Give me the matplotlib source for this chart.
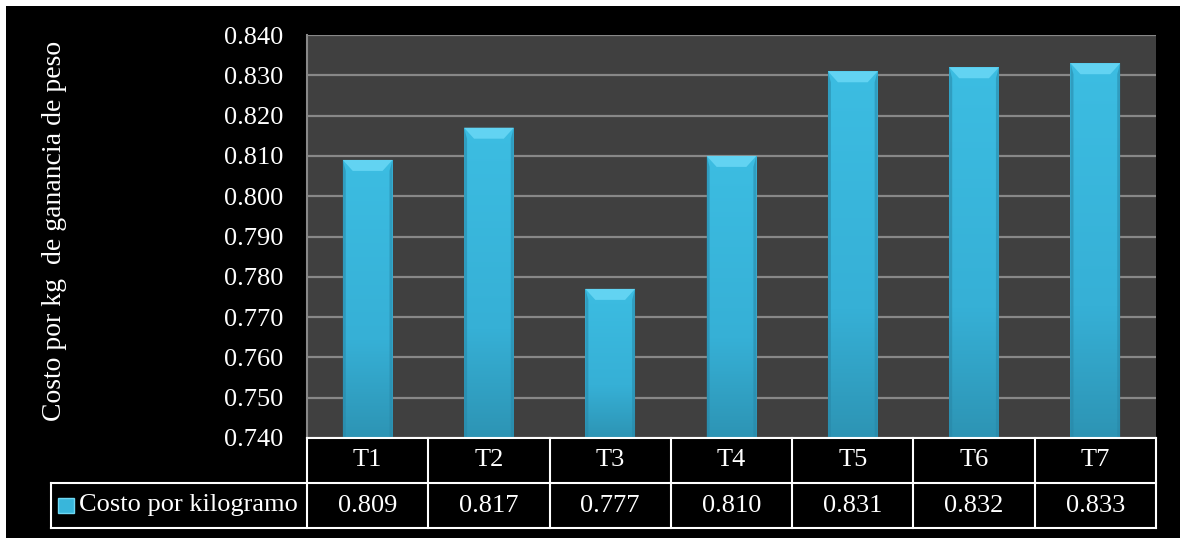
import numpy as np
import matplotlib
matplotlib.use("Agg")
import matplotlib.pyplot as plt
from matplotlib import transforms
from matplotlib.patches import Rectangle, Polygon
from matplotlib.lines import Line2D
from matplotlib.colors import LinearSegmentedColormap

categories = ["T1", "T2", "T3", "T4", "T5", "T6", "T7"]
values = [0.809, 0.817, 0.777, 0.810, 0.831, 0.832, 0.833]
value_labels = ["0.809", "0.817", "0.777", "0.810", "0.831", "0.832", "0.833"]
series_name = "Costo por kilogramo"
y_label = "Costo por kg  de ganancia de peso"
y_ticks = [0.740, 0.750, 0.760, 0.770, 0.780, 0.790, 0.800, 0.810, 0.820, 0.830, 0.840]

SERIF = ["Liberation Serif", "DejaVu Serif"]
FS = 19

W, H = 1180, 538
fig = plt.figure(figsize=(W / 100, H / 100), dpi=100, facecolor="white")
fig.add_artist(Rectangle((6 / W, 0), 1 - 6 / W, (H - 6) / H, transform=fig.transFigure,
                         facecolor="black", edgecolor="none", zorder=0))

ax_l, ax_r, ax_t, ax_b = 307, 1156, 35, 438
ax = fig.add_axes([ax_l / W, (H - ax_b) / H, (ax_r - ax_l) / W, (ax_b - ax_t) / H])
ax.set_facecolor("#404040")

ymin, ymax = y_ticks[0], y_ticks[-1]
x = np.arange(len(categories))
bars = ax.bar(x, np.array(values) - ymin, bottom=ymin, width=0.41, color="#38B6DB",
              zorder=3, edgecolor="none")
ax.set_yticks(y_ticks)
ax.set_yticklabels([f"{t:.3f}" for t in y_ticks], fontfamily=SERIF, fontsize=FS, color="white")
ax.tick_params(axis="y", length=0, pad=17)
ax.set_xticks([])
ax.yaxis.grid(True, color="#888888", linewidth=1.6, zorder=1)
for s in ["top", "right", "bottom"]:
    ax.spines[s].set_visible(False)
ax.spines["left"].set_color("#888888")
ax.spines["left"].set_linewidth(1.5)

grad = np.linspace(0, 1, 256).reshape(-1, 1)
cmap = LinearSegmentedColormap.from_list("b", [(0, "#2D94B4"), (0.35, "#36B0D6"), (1, "#3CBDE2")])
px_to_data_x = len(categories) / (ax_r - ax_l)
px_to_data_y = (ymax - ymin) / (ax_b - ax_t)
for b in bars:
    x0, w, h = b.get_x(), b.get_width(), b.get_height()
    y0 = b.get_y()
    im = ax.imshow(grad, extent=(x0, x0 + w, y0, y0 + h), origin="lower", cmap=cmap,
                   aspect="auto", zorder=3.5)
    im.set_clip_path(b)
    dx = 10 * px_to_data_x
    dy = 11 * px_to_data_y
    top = y0 + h
    ax.add_patch(Polygon([(x0, top), (x0 + w, top), (x0 + w - dx, top - dy), (x0 + dx, top - dy)],
                         closed=True, facecolor="#62D3F2", edgecolor="none", zorder=4))
    sx = 3 * px_to_data_x
    for side in (0, 1):
        xo = x0 if side == 0 else x0 + w
        xi = xo + sx if side == 0 else xo - sx
        ax.add_patch(Polygon([(xo, top), (xi, top - dy), (xi, y0), (xo, y0)],
                             closed=True, facecolor="#2886A6", edgecolor="none", zorder=4,
                             alpha=0.55))
ax.set_xlim(-0.5, len(categories) - 0.5)
ax.set_ylim(ymin, ymax)

fig.text(55 / W, 1 - 231 / H, y_label, rotation=90, ha="center", va="center",
         fontfamily=SERIF, fontsize=20, color="white")

ah = ax_b - ax_t
r1 = -(483 - ax_b) / ah
r2 = -(528 - ax_b) / ah
leg_left = (51 - ax_l) / (ax_r - ax_l)
tr = transforms.blended_transform_factory(ax.transData, ax.transAxes)
lw = 1.5


def line(xs, ys, t):
    ax.add_line(Line2D(xs, ys, transform=t, color="white", linewidth=lw, clip_on=False, zorder=5))


n = len(categories)
line([-0.5, n - 0.5], [0, 0], tr)
line([leg_left, 1], [r1, r1], ax.transAxes)
line([leg_left, 1], [r2, r2], ax.transAxes)
for i in range(n + 1):
    line([i - 0.5, i - 0.5], [0, r2], tr)
line([leg_left, leg_left], [r1, r2], ax.transAxes)

for i, (c, v) in enumerate(zip(categories, value_labels)):
    ax.text(i, r1 / 2, c, transform=tr, ha="center", va="center", fontfamily=SERIF,
            fontsize=FS, color="white", zorder=6)
    ax.text(i, (r1 + r2) / 2, v, transform=tr, ha="center", va="center", fontfamily=SERIF,
            fontsize=FS, color="white", zorder=6)

kx0 = (58 - ax_l) / (ax_r - ax_l)
kw = 16 / (ax_r - ax_l)
kh = 15 / ah
ky = (r1 + r2) / 2 - kh / 2
ax.add_patch(Rectangle((kx0, ky), kw, kh, transform=ax.transAxes, facecolor="#38B6DB",
                       edgecolor="#6ED8F4", linewidth=1, clip_on=False, zorder=5))
ax.text((79 - ax_l) / (ax_r - ax_l), (r1 + r2) / 2, series_name, transform=ax.transAxes,
        ha="left", va="center", fontfamily=SERIF, fontsize=FS, color="white", zorder=6)

fig.savefig("out.png", dpi=100, facecolor=fig.get_facecolor())
